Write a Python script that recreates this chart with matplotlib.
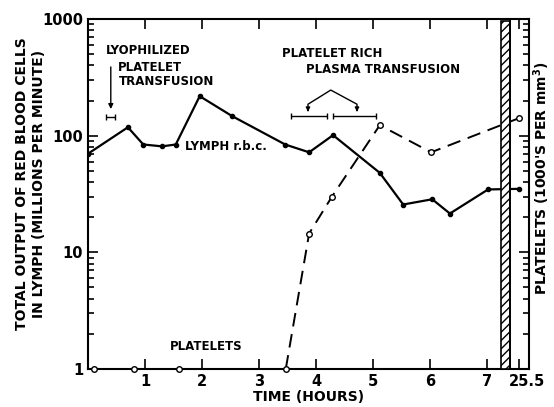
import numpy as np
import matplotlib.pyplot as plt
import matplotlib.transforms as mtransforms
from matplotlib.scale import FuncScale

# lymph red cell output (millions per minute), solid line
rbc_hours = [0.0, 0.70, 0.97, 1.30, 1.54, 1.96, 2.53, 3.46, 3.88, 4.30, 5.12, 5.53, 6.04, 6.35, 7.02, 25.5]
rbc_values = [70, 118, 84, 81, 84, 218, 147, 84, 72, 101, 48, 25.7, 28.5, 21.5, 34.6, 35]

# platelets (1000's per mm3), dashed line
plt_hours = [0.10, 0.81, 1.60, 3.47, 3.88, 4.28, 5.12, 6.02, 25.5]
plt_values = [1, 1, 1, 1, 14.5, 30, 123, 72, 141]

hour_ticks = [1, 2, 3, 4, 5, 6, 7, 25.5]
hour_labels = ['1', '2', '3', '4', '5', '6', '7', '25.5']

# broken time axis: 7.25 h .. 25.35 h squeezed into the hatched band
brk_real = [-10, 7.25, 25.35, 40]
brk_disp = [-10, 7.25, 7.408, 7.408 + 14.65]

def fwd(x):
    return np.interp(x, brk_real, brk_disp)

def inv(x):
    return np.interp(x, brk_disp, brk_real)

bold = dict(fontweight='bold', family='DejaVu Sans')

fig = plt.figure(figsize=(5.54, 4.07), dpi=100)
ax = fig.add_axes([88/554, 1 - 369/407, (529 - 88)/554, (369 - 19)/407])

ax.set_xscale(FuncScale(ax, (fwd, inv)))
ax.set_yscale('log')
ax.set_xlim(0, 25.68)
ax.set_ylim(1, 1000)

ax.plot(rbc_hours, rbc_values, color='black', lw=1.6, marker='o', ms=3, zorder=3)
ax.plot(plt_hours, plt_values, color='black', lw=1.4, ls=(0, (7, 4)), marker='o', ms=4,
        mfc='white', mec='black', mew=1, zorder=3, clip_on=False)

# hatched break band
ax.axvspan(7.25, 25.2, ymin=0, ymax=0.995, facecolor='white', edgecolor='black',
           hatch='////', lw=1.2, zorder=4)
ax.axvline(25.35, color='black', lw=1.4, zorder=5)

ax.set_xticks(hour_ticks)
ax.set_xticklabels(hour_labels)
ax.set_yticks([1, 10, 100, 1000])
ax.set_yticklabels(['1', '10', '100', '1000'])
ax.tick_params(which='both', direction='in', top=True, right=True, width=1.2)
ax.tick_params(which='major', length=7, labelsize=10.5)
ax.tick_params(which='minor', length=4)
ax.tick_params(axis='x', which='minor', top=False, bottom=False)
for lab in ax.get_xticklabels() + ax.get_yticklabels():
    lab.set_fontweight('bold')
# 25.5 label sits to the right of its tick
last = ax.get_xticklabels()[-1]
last.set_transform(last.get_transform() + mtransforms.ScaledTranslation(8/100, 0, fig.dpi_scale_trans))
for s in ax.spines.values():
    s.set_linewidth(1.5)

ax.set_xlabel('TIME (HOURS)', fontsize=10, labelpad=1, **bold)
ax.set_ylabel('TOTAL OUTPUT OF RED BLOOD CELLS\nIN LYMPH (MILLIONS PER MINUTE)',
              fontsize=10, linespacing=1.25, **bold)
ax.yaxis.set_label_coords(-0.095, 0.53)
fig.text(542/554, 1 - 178/407, "PLATELETS (1000'S PER mm$^{\\mathbf{3}}$)", rotation=90,
         ha='center', va='center', fontsize=10, **bold)

# lyophilized platelet transfusion
ax.text(0.32, 532, 'LYOPHILIZED', fontsize=8.5, va='center', **bold)
ax.text(0.53, 387, 'PLATELET', fontsize=8.5, va='center', **bold)
ax.text(0.54, 294, 'TRANSFUSION', fontsize=8.5, va='center', **bold)
ax.annotate('', xy=(0.40, 160), xytext=(0.40, 410),
            arrowprops=dict(arrowstyle='-|>', color='black', lw=1, mutation_scale=7))
ax.errorbar([0.395], [144], xerr=[0.075], color='black', lw=1, capsize=2.5, capthick=1)

# platelet rich plasma transfusion
ax.text(3.40, 502, 'PLATELET RICH', fontsize=8.5, va='center', **bold)
ax.text(3.82, 372, 'PLASMA TRANSFUSION', fontsize=8.5, va='center', **bold)
ax.plot([3.86, 3.86, 4.26, 4.72, 4.72], [170, 186, 246, 186, 170], color='black', lw=1)
for bx in [3.86, 4.72]:
    ax.annotate('', xy=(bx, 160), xytext=(bx, 175),
                arrowprops=dict(arrowstyle='-|>', color='black', lw=1, mutation_scale=6))
ax.errorbar([3.875, 4.675], [147, 147], xerr=[0.315, 0.375], color='black', lw=1,
            capsize=2.5, capthick=1, ls='none')

ax.text(1.70, 81, 'LYMPH r.b.c.', fontsize=8.5, va='center', **bold)
ax.text(1.44, 1.55, 'PLATELETS', fontsize=8.5, va='center', **bold)

fig.savefig('out.png', dpi=100)
